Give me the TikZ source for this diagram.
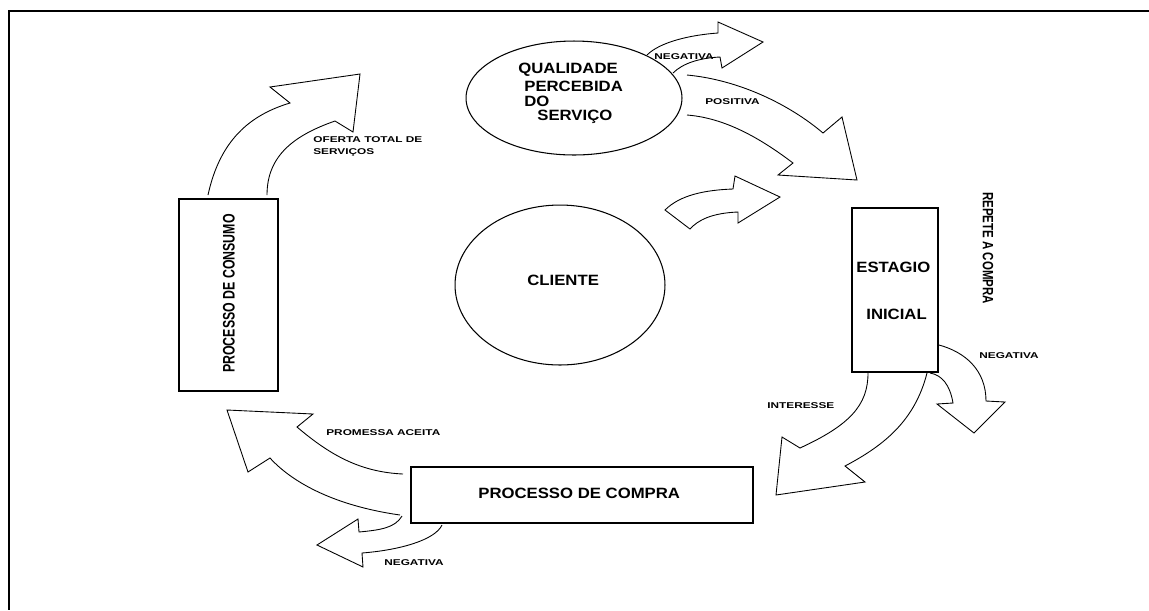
\documentclass[tikz,border=0pt]{standalone}
\usepackage{fontspec}
\setmainfont{Liberation Sans}
\usepackage{graphicx}
\usetikzlibrary{shapes.geometric}
\newcommand{\lbl}[1]{\scalebox{1.4}[1]{\fontsize{4.8}{5.5}\selectfont\bfseries #1}}
\newcommand{\bigt}[1]{\scalebox{1.12}[1]{\fontsize{8.5}{10}\selectfont\bfseries #1}}
\tikzset{
  frameline/.style={line width=1.5pt},
  boxnode/.style={draw, line width=0.7pt, rectangle, inner sep=0pt},
  ell/.style={draw, line width=0.6pt, ellipse, inner sep=0pt},
  blk/.style={draw, line width=0.5pt, line join=miter},
  txt/.style={inner sep=0pt, anchor=west},
}
\begin{document}
\begin{tikzpicture}[x=0.02cm,y=-0.02cm]
\useasboundingbox (0,0) rectangle (1149,610);
\draw[frameline] (1149,11) -- (9,11) -- (9,610);

% main nodes
\node[ell, minimum width=4.32cm, minimum height=2.28cm] (qual) at (574,98) {};
\node[ell, minimum width=4.2cm, minimum height=3.2cm] (cliente) at (560,285) {};
\node[boxnode, minimum width=1.98cm, minimum height=3.84cm] (consumo) at (228.5,295) {};
\node[boxnode, minimum width=1.72cm, minimum height=3.28cm] (estagio) at (895,290) {};
\node[boxnode, minimum width=6.84cm, minimum height=1.12cm] (compra) at (582,495) {};

% texts in nodes
\node[txt] (q1) at (518,70) {\bigt{QUALIDADE}};
\node[txt] (q2) at (524,86) {\bigt{PERCEBIDA}};
\node[txt] (q3) at (524,101) {\bigt{DO}};
\node[txt] (q4) at (537,117) {\bigt{SERVIÇO}};
\node[txt] (c1) at (527,280) {\bigt{CLIENTE}};
\node[txt] (e1) at (856,267) {\bigt{ESTAGIO}};
\node[txt] (e2) at (866,314) {\bigt{INICIAL}};
\node[txt] (p1) at (478,493) {\bigt{PROCESSO DE COMPRA}};
\node[inner sep=0pt, rotate=90] (pc) at (229,293.5) {\scalebox{0.74}[1]{\fontsize{9.5}{11}\selectfont\bfseries PROCESSO DE CONSUMO}};
\node[inner sep=0pt, rotate=-90] (rep) at (988,248) {\scalebox{0.77}[1]{\fontsize{8.5}{10}\selectfont\bfseries REPETE A COMPRA}};

% block arrows
% oferta total
\draw[blk] (208,195) .. controls (220,140) and (250,115) .. (290,103) -- (270,87) -- (360,74) -- (353,132) -- (335,121) .. controls (295,135) and (267,155) .. (267,195);
% promessa aceita
\draw[blk] (403,474) .. controls (360,472) and (330,455) .. (297,427) -- (313,414) -- (227,410) -- (248,472) -- (270,458) .. controls (290,480) and (330,505) .. (400,515);
% negativa bottom
\draw[blk] (402,516) .. controls (395,528) and (380,530) .. (359,532) -- (358,519) -- (317,545) -- (363,567) -- (362,553) .. controls (400,550) and (435,540) .. (442,525);
% interesse
\draw[blk] (868,373) .. controls (868,405) and (850,425) .. (800,448) -- (782,437) -- (776,495) -- (865,482) -- (845,466) .. controls (885,445) and (915,420) .. (927,373);
% negativa right
\draw[blk] (939,345) .. controls (965,352) and (986,370) .. (986,401) -- (1005,402) -- (974,433) -- (937,404) -- (953,403) .. controls (950,385) and (942,375) .. (930,373);
% positiva
\draw[blk] (687,75) .. controls (740,80) and (790,105) .. (823,133) -- (842,117) -- (857,180) -- (778,175) -- (793,163) .. controls (760,138) and (725,118) .. (687,115);
% negativa top
\draw[blk] (647,55) .. controls (660,42) and (690,35) .. (718,33) -- (718,22) -- (763,42) -- (722,68) -- (720,57) .. controls (700,58) and (683,63) .. (673,73);
% cliente arrow
\draw[blk] (690,229) -- (665,210) .. controls (680,195) and (705,190) .. (733,189) -- (735,176) -- (780,197) -- (738,223) -- (738,212) .. controls (712,213) and (698,220) .. cycle;

% labels
\node[txt] (l1) at (313,140) {\lbl{OFERTA TOTAL DE}};
\node[txt] (l2) at (313,152) {\lbl{SERVIÇOS}};
\node[txt] (l3) at (326,433) {\lbl{PROMESSA ACEITA}};
\node[txt] (l4) at (384,563) {\lbl{NEGATIVA}};
\node[txt] (l5) at (767,406) {\lbl{INTERESSE}};
\node[txt] (l6) at (979,356) {\lbl{NEGATIVA}};
\node[txt] (l7) at (705,102) {\lbl{POSITIVA}};
\node[txt] (l8) at (654,57) {\lbl{NEGATIVA}};
\end{tikzpicture}
\end{document}
